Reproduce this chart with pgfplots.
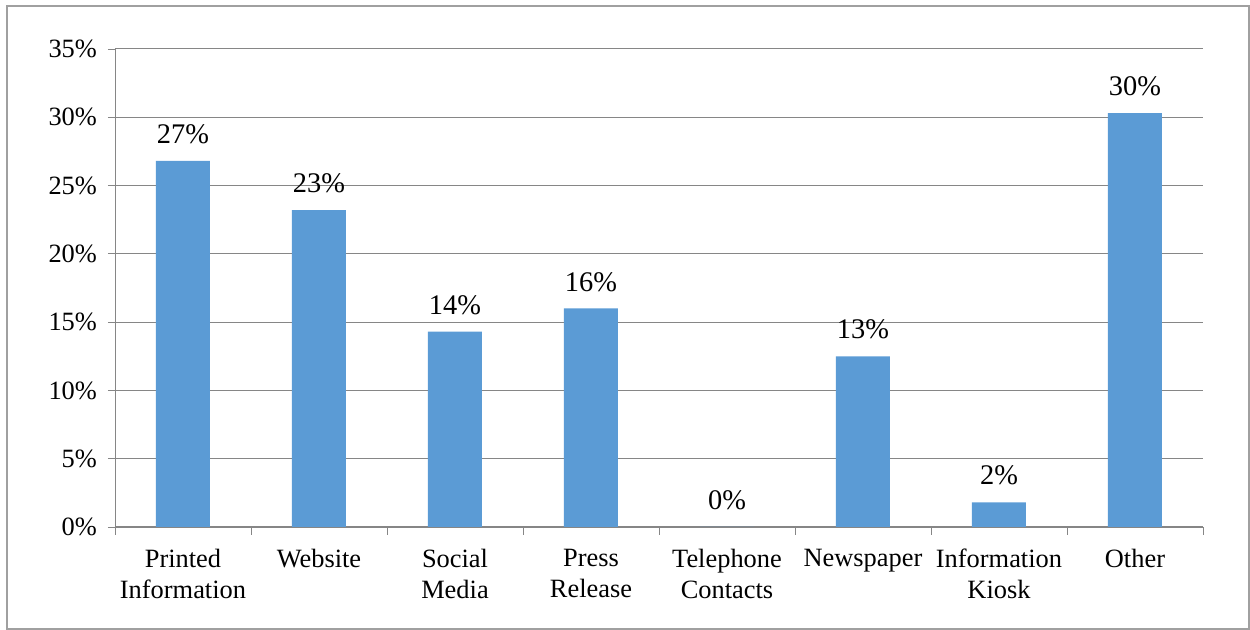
\documentclass[border=0pt]{standalone}
\usepackage{fontspec}
\setmainfont{Liberation Serif}
\usepackage{pgfplots}
\pgfplotsset{compat=1.18}
\definecolor{barblue}{HTML}{5B9BD5}
\definecolor{gridgray}{RGB}{134,134,134}
\definecolor{framegray}{RGB}{160,160,160}
\begin{document}
\begin{tikzpicture}[x=1pt,y=1pt]
\useasboundingbox (0,0) rectangle (625,315);
\draw[framegray,line width=0.6pt] (3.5,0.5) rectangle (624.5,312);
\begin{axis}[
  at={(57.5pt,51.5pt)}, anchor=south west,
  scale only axis, width=544pt, height=239pt,
  xmin=-0.5, xmax=7.5, ymin=0, ymax=35,
  ybar, bar width=27pt,
  axis line style={gridgray},
  axis x line*=bottom, axis y line*=left,
  ymajorgrids, grid style={gridgray, line width=0.5pt},
  ytick={0,5,...,35},
  yticklabel={\pgfmathprintnumber{\tick}\%},
  /pgf/number format/assume math mode=true,
  xtick={0,...,7},
  xticklabels={Printed\\Information, Website, Social\\Media, Press\\Release, Telephone\\Contacts, Newspaper, Information\\Kiosk, Other},
  x tick label style={align=center, font=\fontsize{13.2}{15.5}\selectfont, yshift=-4pt},
  y tick label style={font=\fontsize{13.2}{15.5}\selectfont, xshift=-2pt},
  major x tick style={draw=none},
  minor xtick={-0.5,0.5,...,7.5},
  minor x tick style={gridgray},
  xtick align=outside, ytick align=outside,
  minor tick length=4pt, major tick length=3.5pt,
  tick style={gridgray},
  every tick/.style={gridgray},
  nodes near coords,
  point meta=explicit symbolic,
  every node near coord/.append style={font=\fontsize{14.2}{16}\selectfont, yshift=5pt, black},
  clip=false,
]
\addplot[fill=barblue, draw=none] coordinates {
 (0,26.8) [27\%]
 (1,23.2) [23\%]
 (2,14.3) [14\%]
 (3,16.0) [16\%]
 (4,0) [0\%]
 (5,12.5) [13\%]
 (6,1.8) [2\%]
 (7,30.3) [30\%]
};
\end{axis}
\end{tikzpicture}
\end{document}
